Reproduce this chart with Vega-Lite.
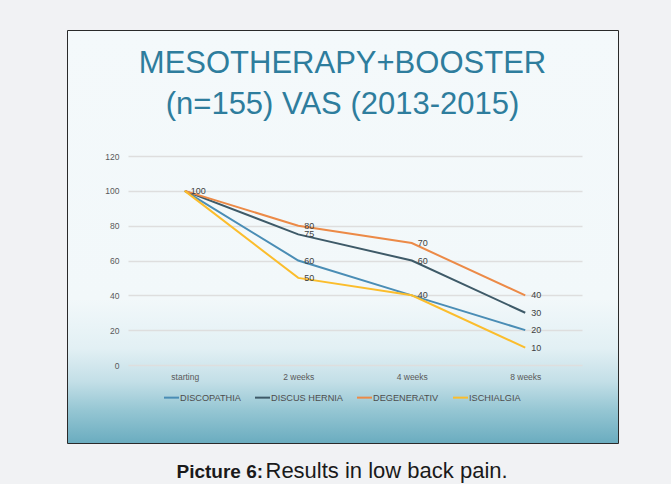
{
  "$schema": "https://vega.github.io/schema/vega-lite/v6.json",
  "width": 551,
  "height": 413,
  "autosize": {"type": "none"},
  "padding": {"left": 67, "top": 30, "right": 53, "bottom": 41},
  "background": "#f1f2f4",
  "title": {
    "text": ["MESOTHERAPY+BOOSTER", "(n=155) VAS (2013-2015)"],
    "font": "Liberation Sans",
    "fontSize": 31,
    "fontWeight": "normal",
    "color": "#2e7d9d",
    "lineHeight": 41,
    "anchor": "middle",
    "frame": "group",
    "baseline": "top",
    "offset": -91
  },
  "config": {
    "view": {
      "fill": {
        "gradient": "linear",
        "x1": 0, "y1": 0, "x2": 0, "y2": 1,
        "stops": [
          {"offset": 0, "color": "#f4f9fb"},
          {"offset": 0.65, "color": "#f2f8fa"},
          {"offset": 0.77, "color": "#e2f0f4"},
          {"offset": 0.85, "color": "#c3dfe7"},
          {"offset": 0.92, "color": "#95c6d3"},
          {"offset": 1, "color": "#6aacbf"}
        ]
      },
      "stroke": "#2a2a2a",
      "strokeWidth": 1
    }
  },
  "data": {
    "values": [
      {"series": "DISCOPATHIA", "time": "starting", "vas": 100},
      {"series": "DISCOPATHIA", "time": "2 weeks", "vas": 60},
      {"series": "DISCOPATHIA", "time": "4 weeks", "vas": 40},
      {"series": "DISCOPATHIA", "time": "8 weeks", "vas": 20},
      {"series": "DISCUS HERNIA", "time": "starting", "vas": 100},
      {"series": "DISCUS HERNIA", "time": "2 weeks", "vas": 75},
      {"series": "DISCUS HERNIA", "time": "4 weeks", "vas": 60},
      {"series": "DISCUS HERNIA", "time": "8 weeks", "vas": 30},
      {"series": "DEGENERATIV", "time": "starting", "vas": 100},
      {"series": "DEGENERATIV", "time": "2 weeks", "vas": 80},
      {"series": "DEGENERATIV", "time": "4 weeks", "vas": 70},
      {"series": "DEGENERATIV", "time": "8 weeks", "vas": 40},
      {"series": "ISCHIALGIA", "time": "starting", "vas": 100},
      {"series": "ISCHIALGIA", "time": "2 weeks", "vas": 50},
      {"series": "ISCHIALGIA", "time": "4 weeks", "vas": 40},
      {"series": "ISCHIALGIA", "time": "8 weeks", "vas": 10}
    ]
  },
  "encoding": {
    "x": {
      "field": "time",
      "type": "ordinal",
      "sort": ["starting", "2 weeks", "4 weeks", "8 weeks"],
      "scale": {"type": "point", "range": [61, 515], "padding": 0.5},
      "axis": {
        "domain": false,
        "ticks": false,
        "grid": false,
        "offset": -78,
        "labelPadding": 7,
        "labelFont": "Liberation Sans",
        "labelFontSize": 8.5,
        "labelColor": "#595959",
        "labelAngle": 0,
        "title": "Results in low back pain.",
        "titleAlign": "left",
        "titleBaseline": "alphabetic",
        "titleX": 198,
        "titleY": 112,
        "titleFont": "Liberation Sans",
        "titleFontSize": 22,
        "titleFontWeight": "normal",
        "titleColor": "#1a1a1a"
      }
    },
    "y": {
      "field": "vas",
      "type": "quantitative",
      "scale": {"domain": [0, 120], "range": [335, 126], "nice": false, "zero": true},
      "axis": {
        "values": [0, 20, 40, 60, 80, 100, 120],
        "domain": false,
        "ticks": false,
        "offset": -55,
        "labelPadding": 3,
        "labelFont": "Liberation Sans",
        "labelFontSize": 8.5,
        "labelColor": "#595959",
        "gridColor": "#dedede",
        "gridWidth": 1.5,
        "title": "Picture 6:",
        "titleAngle": 0,
        "titleAlign": "left",
        "titleBaseline": "alphabetic",
        "titleX": 54,
        "titleY": 447,
        "titleFont": "Liberation Sans",
        "titleFontSize": 19,
        "titleFontWeight": "bold",
        "titleColor": "#1a1a1a"
      }
    }
  },
  "layer": [
    {
      "mark": {"type": "line", "strokeWidth": 2},
      "encoding": {
        "color": {
          "field": "series",
          "type": "nominal",
          "scale": {
            "domain": ["DISCOPATHIA", "DISCUS HERNIA", "DEGENERATIV", "ISCHIALGIA"],
            "range": ["#4a8db5", "#3e5a68", "#ec8a47", "#fbbd2c"]
          },
          "legend": {
            "orient": "none",
            "legendX": 96,
            "legendY": 359,
            "direction": "horizontal",
            "columns": 4,
            "title": null,
            "symbolType": "stroke",
            "symbolSize": 225,
            "symbolStrokeWidth": 2,
            "labelOffset": 0,
            "labelFont": "Liberation Sans",
            "labelFontSize": 9.2,
            "labelColor": "#4d4d4d",
            "columnPadding": 10
          }
        }
      }
    },
    {
      "transform": [
        {"aggregate": [{"op": "count", "as": "n"}], "groupby": ["time", "vas"]}
      ],
      "mark": {
        "type": "text",
        "align": "left",
        "baseline": "middle",
        "dx": 6,
        "font": "Liberation Sans",
        "fontSize": 9,
        "color": "#404040"
      },
      "encoding": {
        "text": {"field": "vas", "type": "quantitative"}
      }
    }
  ]
}
